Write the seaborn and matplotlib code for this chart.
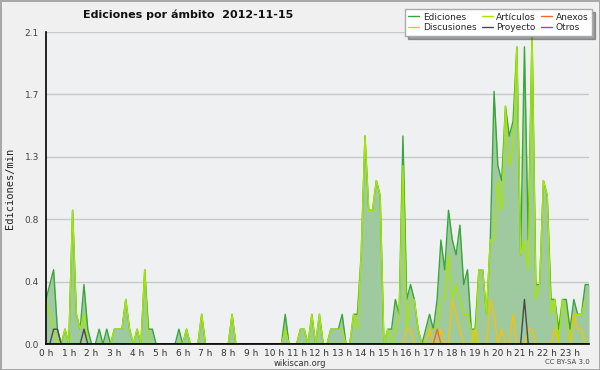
import numpy as np
import pandas as pd
import matplotlib
matplotlib.use("Agg")
import matplotlib.pyplot as plt
import seaborn as sns

# one value every 10 minutes, 144 bins (edits / min)
ediciones = [
    0.3, 0.4, 0.5, 0.1, 0, 0.1, 0, 0.9, 0.2, 0.1, 0.4, 0.1,
    0, 0, 0.1, 0, 0.1, 0, 0.1, 0.1, 0.1, 0.3, 0.1, 0,
    0.1, 0, 0.5, 0.1, 0.1, 0, 0, 0, 0, 0, 0, 0.1,
    0, 0.1, 0, 0, 0, 0.2, 0, 0, 0, 0, 0, 0,
    0, 0.2, 0, 0, 0, 0, 0, 0, 0, 0, 0, 0,
    0, 0, 0, 0.2, 0, 0, 0, 0.1, 0.1, 0, 0.2, 0,
    0.2, 0, 0, 0.1, 0.1, 0.1, 0.2, 0, 0, 0.2, 0.2, 0.6,
    1.4, 0.9, 0.9, 1.1, 1.0, 0, 0.1, 0.1, 0.3, 0.2, 1.4, 0.3,
    0.4, 0.3, 0.1, 0, 0.1, 0.2, 0.1, 0.3, 0.7, 0.5, 0.9, 0.7,
    0.6, 0.8, 0.4, 0.5, 0.1, 0.1, 0.5, 0.5, 0.2, 0.7, 1.7, 1.2,
    1.1, 1.6, 1.4, 1.5, 2.0, 0.6, 2.0, 0.7, 2.1, 0.4, 0.4, 1.1,
    1.0, 0.3, 0.3, 0.1, 0.3, 0.3, 0.1, 0.3, 0.2, 0.2, 0.4, 0.4,
]
articulos = [
    0.3, 0.2, 0.1, 0, 0, 0.1, 0, 0.9, 0.2, 0.1, 0.2, 0,
    0, 0, 0, 0, 0, 0, 0.1, 0.1, 0.1, 0.3, 0.1, 0,
    0.1, 0, 0.5, 0, 0, 0, 0, 0, 0, 0, 0, 0,
    0, 0.1, 0, 0, 0, 0.2, 0, 0, 0, 0, 0, 0,
    0, 0.2, 0, 0, 0, 0, 0, 0, 0, 0, 0, 0,
    0, 0, 0, 0.1, 0, 0, 0, 0.1, 0.1, 0, 0.2, 0,
    0.2, 0, 0, 0.1, 0.1, 0.1, 0.1, 0, 0, 0.2, 0.1, 0.6,
    1.4, 0.9, 0.9, 1.1, 1.0, 0, 0.1, 0, 0.1, 0.2, 1.2, 0.1,
    0.3, 0.3, 0.1, 0, 0, 0.1, 0.1, 0.1, 0.3, 0.3, 0.6, 0.3,
    0.4, 0.3, 0.2, 0.2, 0.1, 0, 0.5, 0.5, 0.2, 0.7, 0.7, 1.1,
    0.9, 1.6, 1.2, 1.3, 2.0, 0.6, 0.7, 0.5, 2.1, 0.3, 0.4, 1.1,
    1.0, 0.2, 0.3, 0, 0.3, 0.2, 0, 0.2, 0.2, 0.2, 0.3, 0.3,
]
# sparse series: {bin: value}
discusiones = {95: 0.1, 96: 0.1, 101: 0.1, 104: 0.1, 107: 0.3, 108: 0.2, 109: 0.1,
               113: 0.1, 117: 0.3, 118: 0.2, 120: 0.1, 123: 0.2, 127: 0.1, 128: 0.1,
               134: 0.1, 139: 0.2, 140: 0.1, 141: 0.1}
proyecto = {2: 0.1, 3: 0.1, 10: 0.1, 126: 0.3}
anexos = {103: 0.1}
otros = {}

hour_labels = [f"{h} h" for h in range(24)]
y_max = 2.1

bins = np.arange(144)


def dense(d):
    v = np.zeros(144)
    for k, val in d.items():
        v[k] = val
    return v


series = {
    "Ediciones": np.array(ediciones),
    "Artículos": np.array(articulos),
    "Discusiones": dense(discusiones),
    "Anexos": dense(anexos),
    "Proyecto": dense(proyecto),
    "Otros": dense(otros),
}
colors = {
    "Ediciones": "#38a638",
    "Artículos": "#a6e600",
    "Discusiones": "#f5c400",
    "Anexos": "#f06a2a",
    "Proyecto": "#4a4a4a",
    "Otros": "#9a40f0",
}

long = pd.concat(
    [pd.DataFrame({"bin": bins, "val": v, "serie": k}) for k, v in series.items()],
    ignore_index=True,
)

sns.set_style("white")
plt.rcParams["font.family"] = ["DejaVu Sans"]

fig = plt.figure(figsize=(6, 3.7), dpi=100)
fig.patch.set_facecolor("#f0f0f0")
fig.patch.set_edgecolor("#a8a8a8")
fig.patch.set_linewidth(2)

ax = fig.add_axes([46 / 600, 26 / 370, 543 / 600, 312 / 370])
ax.set_facecolor("#eef0f2")

ax.fill_between(bins, series["Ediciones"], color="#9fca9f", lw=0, zorder=1)
sns.lineplot(data=long, x="bin", y="val", hue="serie", hue_order=list(series.keys()),
             palette=colors, linewidth=1.0, ax=ax, zorder=2)

ax.set_xlim(0, 143)
ax.set_ylim(0, y_max)

yt = np.linspace(0, y_max, 6)
ax.set_yticks(yt)
ax.set_yticklabels([f"{v:.1f}" for v in yt])
ax.set_yticks(np.linspace(0, y_max, 21), minor=True)
ax.set_xticks(range(0, 144, 6))
ax.set_xticklabels(hour_labels)
ax.set_xticks(bins, minor=True)

ax.yaxis.grid(True, which="major", color="#c9c9c9", lw=1)
ax.set_axisbelow(True)
for s in ["top", "right"]:
    ax.spines[s].set_visible(False)
for s in ["left", "bottom"]:
    ax.spines[s].set_color("black")
    ax.spines[s].set_linewidth(1.2)

ax.tick_params(axis="y", which="major", direction="out", length=4, width=1,
               labelsize=6.5, labelcolor="#444444", pad=1)
ax.tick_params(axis="y", which="minor", direction="out", length=2, width=1)
ax.tick_params(axis="x", which="both", direction="out", length=3, width=1,
               labelsize=6.5, labelcolor="#333333", pad=0.5)
ax.set_xlabel("")
ax.set_ylabel("")

fig.text(10 / 600, 1 - 188 / 370, "Ediciones/min", rotation=90, ha="center", va="center",
         fontsize=7.5, family="DejaVu Sans Mono", color="#222222")
fig.text(188 / 600, 1 - 15 / 370, "Ediciones por ámbito  2012-11-15", ha="center",
         va="center", fontsize=8, fontweight="bold", color="#111111")
fig.text(300 / 600, 1 - 363 / 370, "wikiscan.org", ha="center", va="center",
         fontsize=6, color="#333333")
fig.text(590 / 600, 1 - 362 / 370, "CC BY-SA 3.0", ha="right", va="center",
         fontsize=5, color="#444444")

handles, labels = ax.get_legend_handles_labels()
hmap = dict(zip(labels, handles))
order = ["Ediciones", "Discusiones", "Artículos", "Proyecto", "Anexos", "Otros"]
leg = ax.legend([hmap[k] for k in order], order, ncol=3, loc="upper right",
                bbox_to_anchor=(592 / 600, 1 - 9 / 370), bbox_transform=fig.transFigure,
                borderaxespad=0, fontsize=6.5, frameon=True, fancybox=False, shadow=True,
                handlelength=1.2, handletextpad=0.4, columnspacing=0.6, labelspacing=0.2,
                borderpad=0.4)
leg.get_frame().set_facecolor("white")
leg.get_frame().set_edgecolor("#aaaaaa")
leg.get_frame().set_alpha(1)
leg.set_zorder(10)

fig.savefig("out.png", dpi=100, facecolor=fig.get_facecolor(), edgecolor=fig.get_edgecolor())
